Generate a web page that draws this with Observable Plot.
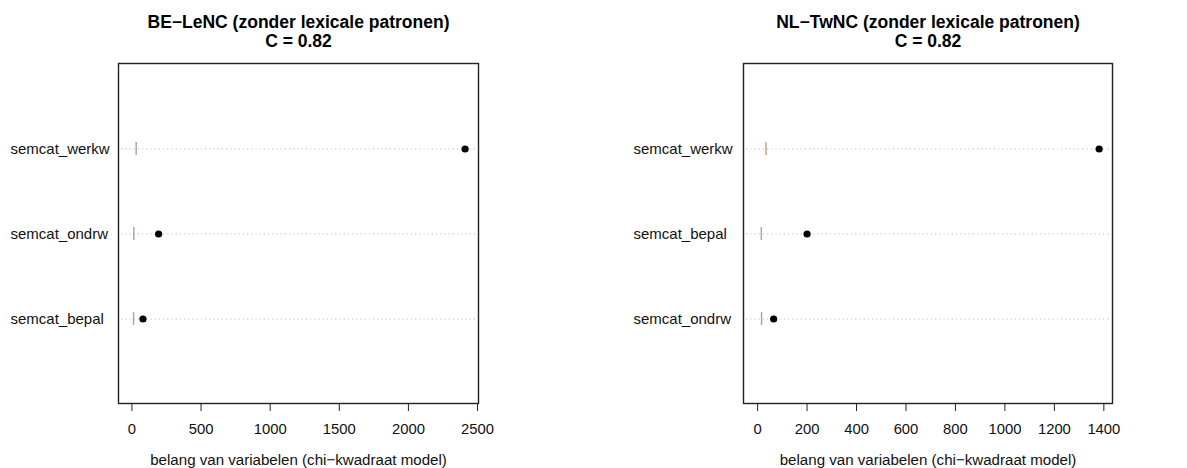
<!DOCTYPE html>
<html>
<head>
<meta charset="utf-8">
<script src="https://cdn.jsdelivr.net/npm/d3@7"></script>
<script src="https://cdn.jsdelivr.net/npm/@observablehq/plot@0.6"></script>
<style>
  html, body { margin: 0; padding: 0; background: #fff; }
  #wrap { display: flex; width: 1187px; height: 468px; }
  svg { font-family: "Liberation Sans", Arial, sans-serif; }
</style>
</head>
<body>
<div id="wrap"></div>
<script>
// ---- data ----
const leftTitle = "BE\u2212LeNC (zonder lexicale patronen)";
const rightTitle = "NL\u2212TwNC (zonder lexicale patronen)";
const leftC = "C = 0.82";
const rightC = "C = 0.82";
const xLabel = "belang van variabelen (chi\u2212kwadraat model)";

const leftCats = ["semcat_werkw", "semcat_ondrw", "semcat_bepal"];
const leftValues = [2410, 193, 80];
const leftRef = [31, 14, 12];
const leftTicks = [0, 500, 1000, 1500, 2000, 2500];

const rightCats = ["semcat_werkw", "semcat_bepal", "semcat_ondrw"];
const rightValues = [1381, 200, 65];
const rightRef = [34, 15, 16];
const rightTicks = [0, 200, 400, 600, 800, 1000, 1200, 1400];

function panel({cats, values, refs, ticks, title, sub, width, marginLeft, marginRight, domain, labelDx, refColor}) {
  const rows = cats.map((c, i) => ({cat: c, value: values[i], ref: refs[i]}));
  return Plot.plot({
    width, height: 468,
    marginLeft, marginRight, marginTop: 63, marginBottom: 65,
    style: {fontSize: "14.8px", color: "#111", background: "#fff", overflow: "visible"},
    x: {domain, ticks, label: null},
    y: {type: "band", domain: cats, paddingInner: 0, paddingOuter: 0.5, axis: null},
    marks: [
      Plot.ruleY(rows, {y: "cat", stroke: "#bdbdbd", strokeDasharray: "1.2,3", strokeWidth: 1, insetLeft: 3, insetRight: 3}),
      Plot.tickX(rows, {x: "ref", y: "cat", stroke: (d, i) => refColor(i), strokeWidth: 1.5, insetTop: 36, insetBottom: 36}),
      Plot.dot(rows, {x: "value", y: "cat", r: 3.6, fill: "#000", stroke: "none"}),
      Plot.frame({stroke: "#222", strokeWidth: 1.4}),
      Plot.axisX({ticks, tickSize: 8, tickPadding: 12, stroke: "#222", fill: "#111", tickFormat: d3.format("d"), label: null}),
      Plot.text(rows, {y: "cat", text: "cat", frameAnchor: "left", textAnchor: "start", dx: labelDx, fill: "#111", fontSize: "15px"}),
      Plot.text([title], {frameAnchor: "top", dy: -41, text: d => d, fontWeight: "bold", fontSize: "17.5px", fill: "#000", lineAnchor: "middle"}),
      Plot.text([sub], {frameAnchor: "top", dy: -22, text: d => d, fontWeight: "bold", fontSize: "17.5px", fill: "#000", lineAnchor: "middle"}),
      Plot.text([xLabel], {frameAnchor: "bottom", dy: 57, text: d => d, fontSize: "15.1px", fill: "#111", lineAnchor: "middle"})
    ]
  });
}

const wrap = document.getElementById("wrap");
wrap.append(panel({
  cats: leftCats, values: leftValues, refs: leftRef, ticks: leftTicks,
  title: leftTitle, sub: leftC, width: 593, marginLeft: 118, marginRight: 115,
  domain: [-97, 2507], labelDx: -108, refColor: () => "#9eabbb"
}));
wrap.append(panel({
  cats: rightCats, values: rightValues, refs: rightRef, ticks: rightTicks,
  title: rightTitle, sub: rightC, width: 594, marginLeft: 150, marginRight: 75,
  domain: [-57, 1435], labelDx: -110, refColor: i => ["#c4a488", "#aeaaa6", "#9eabbb"][i]
}));
</script>
</body>
</html>
